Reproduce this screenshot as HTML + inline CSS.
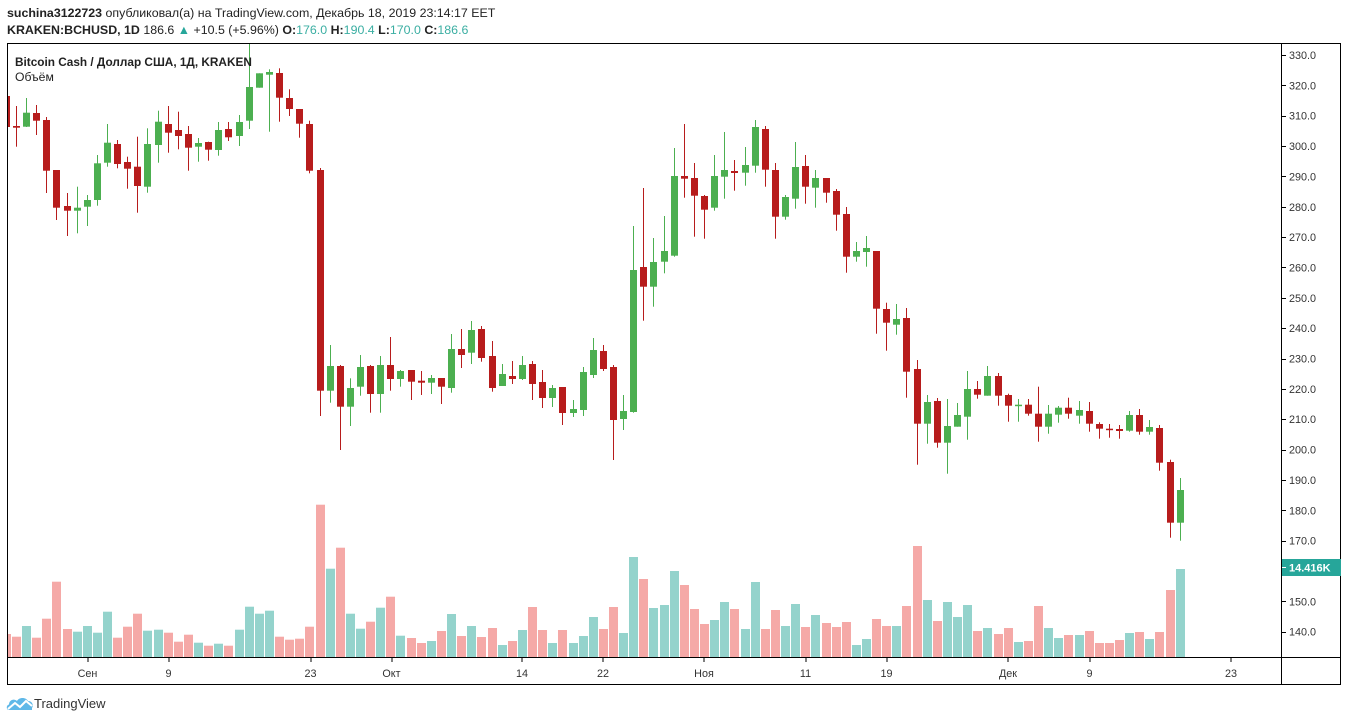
<!DOCTYPE html>
<html><head><meta charset="utf-8">
<style>
html,body{margin:0;padding:0;width:1348px;height:722px;background:#fff;overflow:hidden;}
svg{display:block;font-family:"Liberation Sans","DejaVu Sans",sans-serif;}
</style></head><body>
<svg id="s" width="1348" height="722" viewBox="0 0 1348 722" xmlns="http://www.w3.org/2000/svg">
<rect x="0" y="0" width="1348" height="722" fill="#fff"/>
<!-- header -->
<text x="7" y="17" font-size="12.4" fill="#222"><tspan font-weight="bold">suchina3122723</tspan> опубликовал(а) на TradingView.com, Декабрь 18, 2019 23:14:17 EET</text>
<text x="7" y="34" font-size="12.4" fill="#222"><tspan font-weight="bold">KRAKEN:BCHUSD, 1D</tspan> 186.6 <tspan fill="#26a69a">▲</tspan> +10.5 (+5.96%) <tspan font-weight="bold">O:</tspan><tspan fill="#3aaea2">176.0</tspan> <tspan font-weight="bold">H:</tspan><tspan fill="#3aaea2">190.4</tspan> <tspan font-weight="bold">L:</tspan><tspan fill="#3aaea2">170.0</tspan> <tspan font-weight="bold">C:</tspan><tspan fill="#3aaea2">186.6</tspan></text>

<defs><clipPath id="pc"><rect x="7.5" y="43.5" width="1274" height="614"/></clipPath></defs>
<g id="plot" clip-path="url(#pc)"></g>

<!-- frame -->
<rect x="7.5" y="43.5" width="1333" height="641" fill="none" stroke="#000" stroke-width="1"/>
<line x1="1281.5" y1="43" x2="1281.5" y2="685" stroke="#000" stroke-width="1"/>
<line x1="7" y1="657.5" x2="1341" y2="657.5" stroke="#000" stroke-width="1"/>

<!-- legend -->
<text x="15" y="66" font-size="11.8" font-weight="bold" fill="#222">Bitcoin Cash / Доллар США, 1Д, KRAKEN</text>
<text x="15" y="81" font-size="12.2" fill="#222">Объём</text>

<!-- price axis -->
<g id="yax" font-size="10.8" fill="#333"></g>

<!-- volume label -->
<rect x="1282" y="559" width="59" height="17" fill="#26a69a"/>
<line x1="1282" y1="567.5" x2="1286" y2="567.5" stroke="#fff"/>
<text x="1289" y="571.5" font-size="11" font-weight="bold" fill="#fff">14.416K</text>

<!-- time axis -->
<g id="xax" font-size="10.8" fill="#333" text-anchor="middle">
<text x="87.5" y="677">Сен</text>
<text x="168.5" y="677">9</text>
<text x="310.5" y="677">23</text>
<text x="391.5" y="677">Окт</text>
<text x="522" y="677">14</text>
<text x="603" y="677">22</text>
<text x="704" y="677">Ноя</text>
<text x="805.5" y="677">11</text>
<text x="886.5" y="677">19</text>
<text x="1008" y="677">Дек</text>
<text x="1089.5" y="677">9</text>
<text x="1231" y="677">23</text>
</g>

<!-- logo -->
<g transform="translate(6,696)">
<path d="M3 14 C0 14 0 9 3 8.5 C3 4 8 2 11 5 C13 1 20 1 22 5 C26 5 28 9 26 12 L26 14 Z" fill="#5fb8e8"/>
<path d="M2 13 L9 7 L14 11 L20 5 L26 10" fill="none" stroke="#fff" stroke-width="2"/>
</g>
<text x="34" y="708" font-size="13" fill="#333">TradingView</text>
</svg>
<script>
(function(){
var NS="http://www.w3.org/2000/svg";
var C=[
"r,96,127,93,127","r,126,127.7,106,146.7","g,112.7,126.7,98,127","r,113,120.7,105,135","r,120,170.7,117,193",
"r,170,207.7,170,220","r,206,210.7,193,236","g,207.7,210.7,186.7,233.3","g,200,206.7,195,226","g,163.3,200,155,205.7",
"g,142.7,162.7,124,166.7","r,144,164,140,168.3","r,162,168.7,156.7,188.7","r,166.7,186,136.7,212.7","g,144,186.7,128.3,192.7",
"g,121.7,145,110.7,162.7","r,124,132.7,106,152.7","r,130,136,111.7,149.3","r,134,147.7,126,170.7","g,143,146.7,138,161.7",
"r,142,149.7,141.7,160.7","g,130,150,122,155.7","r,129,137.3,122,141","g,122,136,115,146","g,87,120.7,43,129",
"g,73.3,87.7,73.3,87.7","g,72,74.7,69.3,131.7","r,73,97.7,68.3,121.7","r,98,109,89.3,116","r,109,123.7,109,137.7",
"r,124,170.7,120.7,173.3","r,170,390.7,168,416","g,366,390.7,345,402.7","r,366,406.7,365,450","g,388,406.7,378.3,426",
"g,367,386.7,355,395.7","r,366,394,365,412.7","g,365,394,356,412.7","r,365,379,337,390.7","g,371,379,370,386.7",
"r,370,381.7,370,400","r,380.7,382.7,371,395","g,378,382.7,375,394","r,378,386.7,378,404","g,349,388,334,392.7",
"r,349,355,329,368","g,330,352.7,321,364","r,329,358,326,361.7","r,356,388,341,391.7","g,374,386,364,386",
"r,376,379,361,384","g,365,379,356,380","r,364,384,361,400","r,382,398,370,408","g,388,398,385,407",
"r,387,413,387,425","g,409,413,400,417","g,372,410,367,416","g,350,375,338,378","r,351,369,345,371",
"r,367,420,365,460","g,411,419,395,430","g,270,412,226,412.7","r,267,286.7,188,320.7","g,262,286.7,238,306.7",
"g,251,261.7,216,273.3","g,176,255.7,148,256.7","r,176,178.7,124,197.7","r,178,195.7,163,236.7","r,196,209.7,195,238.7",
"g,176,207.7,155,210.7","g,170,176.7,132,198.7","r,171,173,160,190.7","g,165,172.7,147,185.7","g,127,165.7,120,172.7",
"r,129,169.7,126,186.7","r,170,216.7,163,238.7","g,197,216.7,195,219.7","g,167,198.7,142,208.7","r,166,186.7,155,203.7",
"g,178,187.7,170,207.7","r,178,192.7,178,202.7","r,191,214.7,189,230.7","r,214,256.7,207,272.7","g,251,256.7,242,261.7",
"g,248,252,236,266.7","r,251,308.7,251,333.7","r,309,322.7,302.7,350.7","g,319,324.7,304,334.7","r,318,371.7,308,397.7",
"r,369,423.7,360,464.7","g,402,423.7,395,443.7","r,401,442.7,398,447.7","g,426,442.7,399,473.7","g,415,426.7,403,426.7",
"g,389,416.7,371,439.7","r,389,394.7,381,398.7","g,376,395.7,366,395.7","r,376,395.7,373,405.7","r,395,405.7,393.7,421.7",
"g,404.7,405.7,399,421.7","r,404.7,413.7,399,415.7","r,413.7,426.7,386.7,441.7","g,413.7,426.7,405,433.7","g,407.7,414.7,406,422.7",
"r,407.7,413.7,397.7,418.7","g,410,415.7,401,423.7","r,411,423.7,402,431.7","r,424,428.7,422.3,438.7","r,428.7,430,424,437.7",
"r,429,431,425,438.7","g,415,430.7,411,431.7","r,415,431.7,409,434.7","g,427,431.7,420,434.7","r,428,462.7,425,470.7",
"r,462,522.7,459.7,537.7","g,490,522.7,478,540.7"];
var V=[634,636.7,626,637.7,618.7,581.7,629,631.7,626,632.7,611.7,637.7,626.7,613.7,630.7,629.7,632.7,641.7,634.7,642.7,
645.7,643.7,645.7,629.7,606.7,613.7,610.7,636.7,639.7,638.7,626.7,504.7,568.7,547.7,613.7,628.7,621.7,607.7,596.7,635.7,
638,643,641,631,614,636,626,637,628,645,641,630,607,630,643,630,643,636,617,629,607,633,557,579,608,605,571,585,609,624,
620,602,609,629,582,629,610,626,604,627,615,623,627,622,645,639,619,626,626,606,546,600,621,602,617,605,631,628,634,628,
642,641,606,628,638,635,635,631,643,643,640,633,632,639,632,590,569];
var g=document.getElementById("plot");
function R(x,y,w,h,f){var r=document.createElementNS(NS,"rect");r.setAttribute("x",x);r.setAttribute("y",y);r.setAttribute("width",w);r.setAttribute("height",h);r.setAttribute("fill",f);g.appendChild(r);}
for(var i=0;i<C.length;i++){
 var p=C[i].split(","),up=p[0]=="g";
 var xc=Math.round(5.8+10.12*i);
 var vt=V[i];
 R(xc-4,vt,9,657-vt,up?"#94d3cc":"#f5a9a7");
}
for(var i=0;i<C.length;i++){
 var p=C[i].split(","),up=p[0]=="g";
 var bt=+p[1],bb=+p[2],wt=+p[3],wb=+p[4];
 var xc=Math.round(5.8+10.12*i);
 var col=up?"#4caf50":"#b71c1c";
 R(xc,wt,1,Math.max(1,wb-wt),col);
 R(xc-3,bt,7,Math.max(1.5,bb-bt),col);
}
var ya=document.getElementById("yax");
for(var p=330;p>=140;p-=10){
 if(p==160)continue;
 var y=55+(330-p)*3.035;
 var l=document.createElementNS(NS,"rect");l.setAttribute("x",1282);l.setAttribute("y",Math.round(y));l.setAttribute("width",4);l.setAttribute("height",1);l.setAttribute("fill","#000");ya.appendChild(l);
 var t=document.createElementNS(NS,"text");t.setAttribute("x",1289);t.setAttribute("y",(y+4).toFixed(1));t.textContent=p.toFixed(1);ya.appendChild(t);
}
var xa=document.getElementById("xax");
[87.5,168.5,310.5,391.5,522,603,704,805.5,886.5,1008,1089.5,1231].forEach(function(x){
 var l=document.createElementNS(NS,"rect");l.setAttribute("x",Math.round(x)-0.5);l.setAttribute("y",658);l.setAttribute("width",1);l.setAttribute("height",4);l.setAttribute("fill","#000");xa.appendChild(l);
});
})();
</script>
</body></html>
